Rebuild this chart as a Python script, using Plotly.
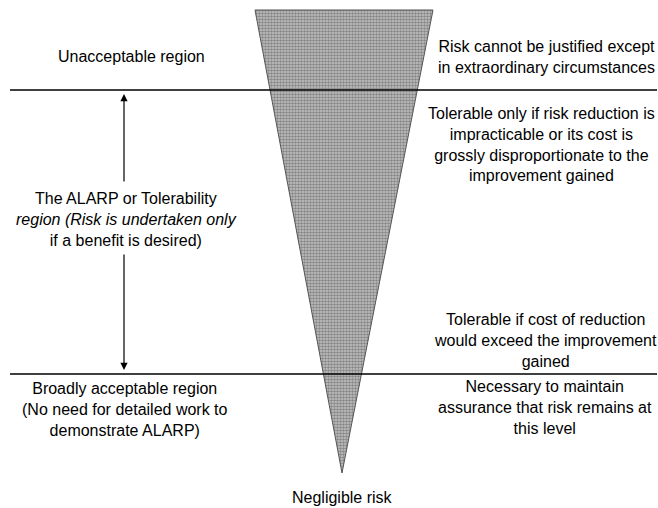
import plotly.graph_objects as go

# Diagram geometry (in diagram units, x across, y down the risk scale)
funnel_x = [255, 433, 342, 255]
funnel_y = [10, 10, 473, 10]
boundary_levels = [90, 374]
boundary_x = [10, 657]
arrow_x = 124
arrow_top = [183, 94]
arrow_bottom = [253, 370]

left_labels = [
    "Unacceptable region",
    "The ALARP or Tolerability<br><i>region (Risk is undertaken only</i><br>if a benefit is desired)",
    "Broadly acceptable region<br>(No need for detailed work to<br>demonstrate ALARP)",
]
left_label_x = [131, 126, 125]
left_label_y = [56, 219, 409]
right_labels = [
    "Risk cannot be justified except<br>in extraordinary circumstances",
    "Tolerable only if risk reduction is<br>impracticable or its cost is<br>grossly disproportionate to the<br>improvement gained",
    "Tolerable if cost of reduction<br>would exceed the improvement<br>gained",
    "Necessary to maintain<br>assurance that risk remains at<br>this level",
]
right_label_x = [546, 541, 545, 545]
right_label_y = [57, 144, 340, 407]
bottom_label = "Negligible risk"

FONT = "Liberation Sans Narrow, Arial Narrow, Liberation Sans, Arial"

fig = go.Figure()
fig.add_trace(go.Scatter(
    x=funnel_x, y=funnel_y, mode="lines", fill="toself",
    fillcolor="#9c9c9c",
    fillpattern=dict(shape=".", size=3, solidity=0.55, fgcolor="#4a4a4a", bgcolor="#c4c4c4"),
    line=dict(color="#555555", width=1), hoverinfo="skip", showlegend=False,
))
for yl in boundary_levels:
    fig.add_trace(go.Scatter(x=boundary_x, y=[yl, yl], mode="lines",
                             line=dict(color="black", width=1.6), showlegend=False, hoverinfo="skip"))

for seg in (arrow_top, arrow_bottom):
    fig.add_annotation(x=arrow_x, y=seg[1], ax=arrow_x, ay=seg[0], xref="x", yref="y",
                       axref="x", ayref="y", showarrow=True, arrowhead=2, arrowsize=1.2,
                       arrowwidth=1.2, arrowcolor="black", text="")

for txt, xx, yy in zip(left_labels, left_label_x, left_label_y):
    fig.add_annotation(x=xx, y=yy, text=txt, showarrow=False, xref="x", yref="y",
                       font=dict(family=FONT, size=16, color="black"), align="center")
for txt, xx, yy in zip(right_labels, right_label_x, right_label_y):
    fig.add_annotation(x=xx, y=yy, text=txt, showarrow=False, xref="x", yref="y",
                       font=dict(family=FONT, size=16, color="black"), align="center")
fig.add_annotation(x=342, y=497, text=bottom_label, showarrow=False, xref="x", yref="y",
                   font=dict(family=FONT, size=16, color="black"))

W, H = 658, 508
fig.update_xaxes(range=[0, W], visible=False, fixedrange=True)
fig.update_yaxes(range=[H, 0], visible=False, fixedrange=True)
fig.update_layout(width=W, height=H, margin=dict(l=0, r=0, t=0, b=0),
                  plot_bgcolor="white", paper_bgcolor="white")
fig.write_html("out.html", config={"displayModeBar": False},
               post_script="document.body.style.margin='0';document.body.style.overflow='hidden';")
